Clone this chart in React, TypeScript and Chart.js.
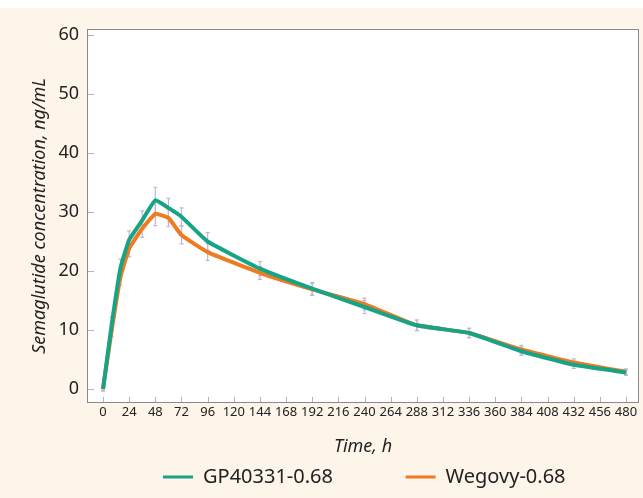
import React, { useEffect, useRef } from "react";
import { Chart, registerables } from "chart.js";

Chart.register(...registerables);

// ---- data ----
const hours = [0, 8, 16, 24, 36, 48, 60, 72, 96, 144, 192, 240, 288, 336, 384, 432, 480];
const gp40331 = [0, 11, 20.5, 25.3, 28.6, 32.0, 30.7, 29.2, 25.0, 20.4, 17.0, 13.9, 10.8, 9.5, 6.4, 4.1, 2.8];
const wegovy = [0, 10, 19, 23.8, 27.2, 29.7, 29.0, 26.1, 23.2, 19.7, 16.9, 14.4, 10.8, 9.5, 6.7, 4.5, 2.9];
const gp40331Err = [0.3, 1.2, 1.5, 1.5, 1.6, 2.2, 1.6, 1.5, 1.5, 1.2, 1.1, 1.1, 0.9, 0.8, 0.7, 0.6, 0.5];
const wegovyErr = [0.3, 1.1, 1.4, 1.4, 1.5, 2.0, 1.5, 1.5, 1.4, 1.1, 1.0, 1.0, 0.9, 0.8, 0.7, 0.6, 0.5];
const xTickValues = [0, 24, 48, 72, 96, 120, 144, 168, 192, 216, 240, 264, 288, 312, 336, 360, 384, 408, 432, 456, 480];
const yTickValues = [0, 10, 20, 30, 40, 50, 60];
const seriesNames = ["GP40331-0.68", "Wegovy-0.68"];
const seriesColors = ["#17a386", "#f07a1f"];

const FONT = '"Noto Sans", "DejaVu Sans", sans-serif';

const backgroundPlugin = {
  id: "bgFrame",
  beforeDraw(chart: any) {
    const { ctx, width, height, chartArea } = chart;
    const { left, top, right, bottom } = chartArea;
    ctx.save();
    ctx.fillStyle = "#ffffff";
    ctx.fillRect(0, 0, width, height);
    ctx.fillStyle = "#fdf4ea";
    ctx.fillRect(0, 8, width, height - 8);
    ctx.fillStyle = "#ffffff";
    ctx.fillRect(left, top, right - left, bottom - top);
    // inner tick marks
    ctx.strokeStyle = "#b5b5b5";
    ctx.lineWidth = 1;
    const xs = chart.scales.x;
    const ys = chart.scales.y;
    xTickValues.forEach((v) => {
      const px = Math.round(xs.getPixelForValue(v)) + 0.5;
      ctx.beginPath();
      ctx.moveTo(px, bottom);
      ctx.lineTo(px, bottom - 5);
      ctx.stroke();
    });
    yTickValues.forEach((v) => {
      const py = Math.round(ys.getPixelForValue(v)) + 0.5;
      ctx.beginPath();
      ctx.moveTo(left, py);
      ctx.lineTo(left + 6, py);
      ctx.stroke();
    });
    ctx.strokeStyle = "#8a8a8a";
    ctx.lineWidth = 1;
    ctx.strokeRect(Math.round(left) - 0.5, Math.round(top) - 0.5, Math.round(right - left) + 1, Math.round(bottom - top) + 1);
    ctx.restore();
    if (chart.legend) {
      chart.legend.left = 158;
    }
  },
};

const errorBarPlugin = {
  id: "errorBars",
  beforeDatasetsDraw(chart: any) {
    const { ctx } = chart;
    const xs = chart.scales.x;
    const ys = chart.scales.y;
    ctx.save();
    ctx.strokeStyle = "#c2b6d6";
    ctx.lineWidth = 1.2;
    const sets: [number[], number[]][] = [
      [gp40331, gp40331Err],
      [wegovy, wegovyErr],
    ];
    sets.forEach(([vals, errs]) => {
      hours.forEach((h, i) => {
        const px = xs.getPixelForValue(h);
        const t = ys.getPixelForValue(vals[i] + errs[i]);
        const b = ys.getPixelForValue(vals[i] - errs[i]);
        ctx.beginPath();
        ctx.moveTo(px, t);
        ctx.lineTo(px, b);
        ctx.moveTo(px - 2, t);
        ctx.lineTo(px + 2, t);
        ctx.moveTo(px - 2, b);
        ctx.lineTo(px + 2, b);
        ctx.stroke();
      });
    });
    ctx.restore();
  },
};

export default function App() {
  const ref = useRef<HTMLCanvasElement>(null);

  useEffect(() => {
    if (!ref.current) return;
    const chart = new Chart(ref.current, {
      type: "line",
      data: {
        datasets: [
          {
            label: seriesNames[0],
            data: hours.map((h, i) => ({ x: h, y: gp40331[i] })),
            borderColor: seriesColors[0],
            backgroundColor: seriesColors[0],
            borderWidth: 4,
            pointRadius: 0,
            tension: 0.12,
          },
          {
            label: seriesNames[1],
            data: hours.map((h, i) => ({ x: h, y: wegovy[i] })),
            borderColor: seriesColors[1],
            backgroundColor: seriesColors[1],
            borderWidth: 4,
            pointRadius: 0,
            tension: 0.12,
          },
        ],
      },
      options: {
        responsive: false,
        animation: false,
        layout: { padding: { top: 30, right: 5, bottom: 1, left: 0 } },
        plugins: {
          tooltip: { enabled: false },
          legend: {
            position: "bottom",
            align: "start",
            labels: {
              boxWidth: 30,
              boxHeight: 3,
              padding: 5,
              color: "#222222",
              font: { family: FONT, size: 20 },
              generateLabels: (c: any) =>
                (Chart.defaults.plugins.legend.labels.generateLabels as any)(c).map((l: any, i: number) => ({
                  ...l,
                  text: i === 0 ? l.text + "             " : l.text,
                  lineWidth: 0,
                })),
            },
          },
        },
        scales: {
          x: {
            type: "linear",
            min: -13.8,
            max: 491,
            grid: { display: false, drawTicks: false },
            border: { display: false },
            afterBuildTicks: (s: any) => {
              s.ticks = xTickValues.map((v) => ({ value: v }));
            },
            afterFit: (s: any) => {
              s.height = 60;
            },
            ticks: {
              autoSkip: false,
              maxRotation: 0,
              padding: 2,
              color: "#222222",
              font: { family: FONT, size: 13 },
            },
            title: {
              display: true,
              text: "Time, h",
              color: "#222222",
              font: { family: FONT, size: 18, style: "italic" },
              padding: { top: 4, bottom: 4 },
            },
          },
          y: {
            type: "linear",
            min: -2.2,
            max: 60.85,
            grid: { display: false, drawTicks: false },
            border: { display: false },
            afterBuildTicks: (s: any) => {
              s.ticks = yTickValues.map((v) => ({ value: v }));
            },
            afterFit: (s: any) => {
              s.width = 88;
            },
            ticks: {
              padding: 9,
              color: "#222222",
              font: { family: FONT, size: 18 },
            },
            title: {
              display: true,
              text: "Semaglutide concentration, ng/mL",
              color: "#222222",
              font: { family: FONT, size: 18, style: "italic" },
              padding: { top: 29, bottom: 0 },
            },
          },
        },
      },
      plugins: [backgroundPlugin, errorBarPlugin],
    } as any);
    return () => chart.destroy();
  }, []);

  return (
    <div style={{ position: "fixed", left: 0, top: 0, width: 643, height: 498 }}>
      <canvas ref={ref} width={643} height={498} style={{ display: "block" }} />
    </div>
  );
}
